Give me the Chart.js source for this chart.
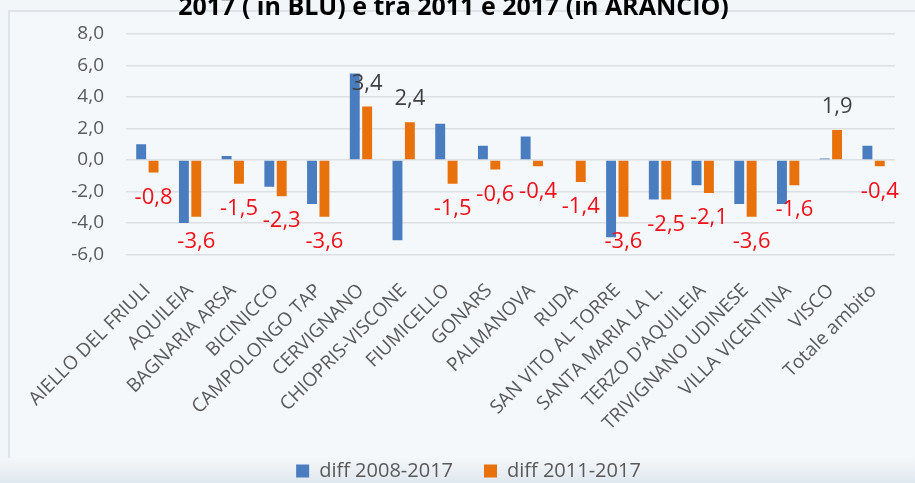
<!DOCTYPE html>
<html>
<head>
<meta charset="utf-8">
<script src="https://cdn.jsdelivr.net/npm/chart.js@4.4.0/dist/chart.umd.min.js"></script>
<style>
    html, body { margin: 0; padding: 0; }
    body { width: 915px; height: 483px; overflow: hidden; background: #f2f6f9; position: relative; font-family: "Open Sans", sans-serif; }
    #frame { position: absolute; left: 8px; top: 10px; width: 920px; height: 480px; border-left: 2px solid #dfe4e8; border-top: 2px solid #dfe4e8; background: #f5f8fb; }
    #band { position: absolute; left: 0; top: 458px; width: 915px; height: 25px; background: linear-gradient(#f4f7fa, #dfe7ee); }
    #title { position: absolute; left: -4px; top: -7px; width: 915px; text-align: center; font-weight: bold; font-size: 25px; line-height: 25px; color: #000; white-space: nowrap; }
    #wrap { position: absolute; left: 0; top: 0; width: 915px; height: 483px; }
</style>
</head>
<body>
<div id="frame"></div>
<div id="band"></div>
<div id="wrap"><canvas id="diffChart" width="915" height="483"></canvas></div>
<div id="title">2017 ( in BLU) e tra 2011 e 2017 (in ARANCIO)</div>
<script>
const comuni = ['AIELLO DEL FRIULI', 'AQUILEIA', 'BAGNARIA ARSA', 'BICINICCO', 'CAMPOLONGO TAP', 'CERVIGNANO',
    'CHIOPRIS-VISCONE', 'FIUMICELLO', 'GONARS', 'PALMANOVA', 'RUDA', 'SAN VITO AL TORRE', 'SANTA MARIA LA L.',
    "TERZO D'AQUILEIA", 'TRIVIGNANO UDINESE', 'VILLA VICENTINA', 'VISCO', 'Totale ambito'];
const diff2008 = [1.0, -4.0, 0.25, -1.7, -2.8, 5.5, -5.1, 2.3, 0.9, 1.5, 0.0, -4.9, -2.5, -1.6, -2.8, -2.8, 0.1, 0.9];
const diff2011 = [-0.8, -3.6, -1.5, -2.3, -3.6, 3.4, 2.4, -1.5, -0.6, -0.4, -1.4, -3.6, -2.5, -2.1, -3.6, -1.6, 1.9, -0.4];
const yTicks = [-6, -4, -2, 0, 2, 4, 6, 8];

const blue = '#4a7dbf';
const orange = '#e8710c';
const grey = '#595959';

function formatIt(v) {
    return v.toFixed(1).replace('.', ',');
}

// value labels on the orange series only
const valueLabels = {
    id: 'valueLabels',
    afterDatasetsDraw(chart) {
        const ctx = chart.ctx;
        const meta = chart.getDatasetMeta(1);
        ctx.save();
        ctx.font = '22px "Open Sans"';
        ctx.textAlign = 'center';
        ctx.textBaseline = 'middle';
        meta.data.forEach((bar, i) => {
            const v = diff2011[i];
            ctx.fillStyle = v < 0 ? '#f0101a' : '#404040';
            const y = v < 0 ? bar.y + 25 : bar.y - 23;
            ctx.fillText(formatIt(v), bar.x, y);
        });
        ctx.restore();
    }
};

// the legend sits a little right of the centre in the original
const legendShift = {
    id: 'legendShift',
    afterLayout(chart) {
        chart.legend.left += 16;
        chart.legend.right += 16;
    }
};

const ctx = document.getElementById('diffChart').getContext('2d');
const diffChart = new Chart(ctx, {
    type: 'bar',
    data: {
        labels: comuni,
        datasets: [{
            label: 'diff 2008-2017',
            data: diff2008,
            backgroundColor: blue,
            categoryPercentage: 0.58,
            barPercentage: 0.8
        }, {
            label: 'diff 2011-2017',
            data: diff2011,
            backgroundColor: orange,
            categoryPercentage: 0.58,
            barPercentage: 0.8
        }]
    },
    options: {
        responsive: false,
        animation: false,
        layout: {
            padding: { top: 34, right: 10, left: 0, bottom: -8 }
        },
        plugins: {
            legend: {
                position: 'bottom',
                labels: {
                    color: grey,
                    font: { size: 20, family: 'Open Sans' },
                    boxWidth: 13,
                    boxHeight: 13,
                    padding: 31
                }
            },
            tooltip: { enabled: false }
        },
        scales: {
            x: {
                grid: { display: false, drawTicks: false },
                border: { display: false },
                ticks: {
                    color: grey,
                    font: { size: 19, family: 'Open Sans' },
                    minRotation: 45,
                    maxRotation: 45,
                    autoSkip: false,
                    padding: 25
                },
                afterFit(scale) { scale.height = 175.5; }
            },
            y: {
                min: -6,
                max: 8,
                afterBuildTicks(scale) { scale.ticks = yTicks.map(v => ({ value: v })); },
                grid: { color: '#dcdfe3', drawTicks: false, lineWidth: 1.5 },
                border: { display: false },
                ticks: {
                    color: grey,
                    font: { size: 19, family: 'Open Sans' },
                    padding: 22,
                    callback: v => formatIt(v)
                },
                afterFit(scale) { scale.width = 126; }
            }
        }
    },
    plugins: [valueLabels, legendShift]
});
</script>
</body>
</html>
